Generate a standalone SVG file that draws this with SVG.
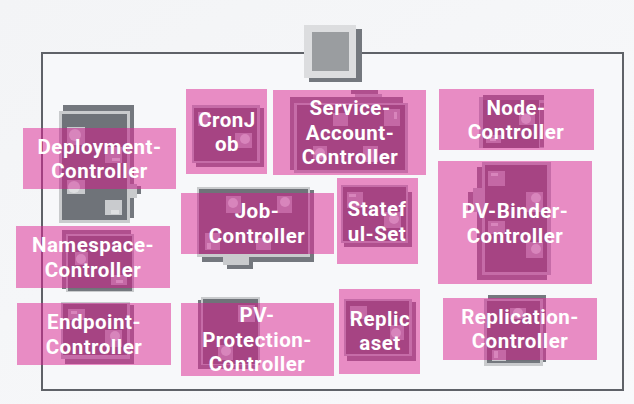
<svg xmlns="http://www.w3.org/2000/svg" width="634" height="404" viewBox="0 0 634 404">
<style>
text{font-family:Roboto,"Open Sans",sans-serif;font-weight:700;font-size:20.500px;letter-spacing:.5px;fill:#fff;text-anchor:middle}
.p{fill:#e88cc4}
.grey{--s:#74787e;--b:#c9cbcd;--f:#6f7379;--c:#c9cbce;--d:#dfe0e2}
.mag{--s:#b04f8e;--b:#c66ca8;--f:#a64483;--c:#c468a5;--d:#d885bc}
.s{fill:var(--s)}.b{fill:var(--b)}.f{fill:var(--f)}.c{fill:var(--c)}.d{fill:var(--d)}
.fr{fill:#a23f80}
</style>
<defs>
<linearGradient id="bg" x1="0" y1="0" x2="1" y2="1"><stop offset="0" stop-color="#f3f4f6"/><stop offset="1" stop-color="#f8f9fb"/></linearGradient>
<clipPath id="cDep"><rect x="23" y="128" width="153" height="61"/></clipPath>
<clipPath id="cCron"><rect x="186" y="89" width="81" height="85"/></clipPath>
<clipPath id="cSvc"><rect x="273" y="90" width="153" height="85"/></clipPath>
<clipPath id="cNode"><rect x="439" y="89" width="155" height="61"/></clipPath>
<clipPath id="cBind"><rect x="438" y="161" width="154" height="123"/></clipPath>
<clipPath id="cJob"><rect x="181" y="193" width="153" height="61"/></clipPath>
<clipPath id="cSta"><rect x="337" y="178" width="81" height="86"/></clipPath>
<clipPath id="cNs"><rect x="16" y="226" width="154" height="62"/></clipPath>
<clipPath id="cEnd"><rect x="17" y="303" width="154" height="62"/></clipPath>
<clipPath id="cProt"><rect x="181" y="303" width="153" height="73"/></clipPath>
<clipPath id="cRs"><rect x="339" y="289" width="81" height="85"/></clipPath>
<clipPath id="cRepl"><rect x="443" y="298" width="154" height="62"/></clipPath>
<g id="iDep">
<rect class="s" x="63" y="105" width="71" height="113"/><rect class="s" x="134" y="186" width="7" height="8"/>
<rect class="b" x="130" y="184" width="7" height="14"/>
<rect class="b" x="59" y="111" width="71" height="112"/><rect class="f" x="62" y="114" width="65" height="106"/>
<rect class="c" x="67" y="127" width="18" height="18"/><circle class="d" cx="75" cy="135" r="6"/>
<rect class="c" x="67" y="180" width="18" height="14"/><circle class="d" cx="74" cy="187" r="6"/>
<rect class="c" x="105" y="147" width="17" height="16"/><rect class="d" x="112" y="158" width="8" height="3"/>
<rect class="c" x="105" y="200" width="17" height="15"/><rect class="d" x="111" y="210" width="8" height="4"/>
</g>
<g id="iCron">
<rect class="s" x="196" y="108" width="68" height="59"/><rect class="b" x="192" y="105" width="68" height="58"/><rect class="f" x="194" y="108" width="63" height="53"/>
<rect class="c" x="198" y="112" width="12" height="14"/><rect class="c" x="235" y="133" width="17" height="15"/><circle class="d" cx="245" cy="139" r="5"/>
</g>
<g id="iSvc">
<rect class="s" x="351" y="90" width="27" height="4"/><rect class="s" x="382" y="98" width="21" height="5"/>
<rect class="b" x="355" y="94" width="27" height="9"/>
<rect class="s" x="290" y="97" width="113" height="73"/><rect class="b" x="294" y="103" width="114" height="70"/><rect class="f" x="297" y="105" width="108" height="65"/>
<rect class="c" x="333" y="113" width="15" height="13"/><rect class="c" x="384" y="109" width="16" height="17"/><rect class="d" x="394" y="112" width="3" height="7"/>
<rect class="c" x="313" y="146" width="14" height="14"/><circle class="d" cx="320" cy="153" r="5"/><rect class="c" x="363" y="146" width="15" height="16"/>
</g>
<g id="iNode">
<rect class="b" x="479" y="97" width="65" height="51"/><rect class="s" x="483" y="95" width="61" height="5"/><rect class="f" x="483" y="100" width="56" height="48"/><rect class="s" x="540" y="103" width="4" height="44"/>
<rect class="c" x="519" y="113" width="16" height="12"/><circle class="d" cx="526" cy="119" r="5"/><rect class="c" x="486" y="135" width="15" height="8"/><rect class="d" x="490" y="138" width="6" height="3"/>
</g>
<g id="iBind">
<rect class="s" x="477" y="167" width="5" height="21"/><rect class="s" x="468" y="192" width="5" height="20"/><rect class="b" x="473" y="188" width="9" height="24"/>
<rect class="s" x="477" y="212" width="70" height="68"/>
<rect class="b" x="482" y="162" width="69" height="113"/><rect class="f" x="485" y="165" width="62" height="107"/>
<rect class="c" x="488" y="171" width="17" height="15"/><rect class="d" x="491" y="173" width="7" height="3"/>
<rect class="c" x="526" y="192" width="17" height="20"/><circle class="d" cx="536" cy="198" r="5"/>
<rect class="c" x="488" y="221" width="17" height="13"/><rect class="d" x="491" y="223" width="7" height="3"/>
<rect class="c" x="526" y="242" width="17" height="16"/><circle class="d" cx="536" cy="249" r="5"/>
</g>
<g id="iJob">
<rect class="s" x="202" y="190" width="112" height="72"/><rect class="s" x="227" y="262" width="26" height="7"/>
<rect class="b" x="223" y="257" width="26" height="8"/>
<rect class="b" x="197" y="187" width="113" height="70"/><rect class="f" x="199" y="189" width="109" height="65"/>
<rect class="c" x="226" y="196" width="15" height="17"/><circle class="d" cx="233" cy="203" r="5"/>
<rect class="c" x="277" y="196" width="15" height="17"/><circle class="d" cx="285" cy="202" r="5"/>
<rect class="c" x="205" y="233" width="15" height="17"/><rect class="d" x="207" y="243" width="4" height="6"/>
<rect class="c" x="256" y="238" width="15" height="12"/>
</g>
<g id="iSta">
<rect class="s" x="344" y="192" width="68" height="55"/><rect class="b" x="341" y="185" width="67" height="58"/><rect class="f" x="343" y="187" width="63" height="54"/>
<rect class="c" x="347" y="192" width="16" height="16"/><rect class="d" x="349" y="194" width="7" height="3"/>
<rect class="c" x="384" y="212" width="17" height="16"/><circle class="d" cx="394" cy="219" r="5"/>
</g>
<g id="iNs">
<rect class="s" x="62" y="230" width="69" height="59"/><rect class="b" x="66" y="234" width="68" height="58"/><rect class="f" x="68" y="236" width="64" height="53"/>
<rect class="s" x="68" y="289" width="64" height="2"/>
<rect class="c" x="75" y="252" width="13" height="13"/><circle class="d" cx="81" cy="259" r="5"/>
<rect class="c" x="111" y="275" width="16" height="10"/><rect class="d" x="116" y="280" width="7" height="3"/>
</g>
<g id="iEnd">
<rect class="s" x="65" y="305" width="69" height="59"/><rect class="b" x="61" y="302" width="69" height="57"/><rect class="f" x="63" y="304" width="64" height="51"/>
<rect class="c" x="68" y="309" width="17" height="11"/><rect class="d" x="71" y="311" width="6" height="3"/>
<rect class="c" x="105" y="330" width="17" height="17"/><circle class="d" cx="115" cy="336" r="5"/>
</g>
<g id="iProt">
<rect class="s" x="198" y="300" width="60" height="69"/><rect class="b" x="201" y="297" width="59" height="68"/><rect class="f" x="203" y="299" width="55" height="65"/>
<rect class="c" x="238" y="305" width="17" height="17"/><rect class="c" x="218" y="345" width="15" height="15"/><circle class="d" cx="226" cy="351" r="5"/>
</g>
<g id="iRs">
<rect class="s" x="347" y="302" width="69" height="59"/><rect class="b" x="344" y="299" width="68" height="57"/><rect class="f" x="346" y="301" width="63" height="53"/>
<rect class="c" x="350" y="306" width="17" height="13"/><rect class="c" x="390" y="325" width="14" height="15"/><circle class="d" cx="396" cy="333" r="5"/>
</g>
<g id="iRepl">
<rect class="s" x="488" y="295" width="58" height="67"/><rect class="b" x="484" y="299" width="59" height="67"/><rect class="f" x="487" y="301" width="53" height="62"/>
<rect class="s" x="487" y="361" width="53" height="2"/>
<rect class="c" x="510" y="308" width="16" height="11"/><circle class="d" cx="518" cy="313" r="5"/>
<rect class="c" x="492" y="350" width="14" height="11"/><rect class="d" x="494" y="351" width="4" height="7"/>
</g>
</defs>
<rect width="634" height="404" fill="url(#bg)"/>
<rect x="42" y="53" width="581" height="337" fill="#f7f8fa"/>
<g id="connectors">
<rect x="42" y="53" width="581" height="337" fill="none" stroke="#5f6268" stroke-width="2"/>
</g>
<g id="master">
<rect x="309" y="29" width="53" height="53" fill="#74787e"/>
<rect x="304" y="25" width="52" height="53" fill="#dcdddf"/>
<rect x="312" y="32" width="37" height="39" fill="#9a9da0"/>
</g>
<g id="cronjob"><use href="#iCron" class="grey"/><rect class="p" x="186" y="89" width="81" height="85"/><use href="#iCron" class="mag" clip-path="url(#cCron)"/><text x="227" y="127">CronJ</text><text x="227" y="151">ob</text></g>
<g id="service-account-controller"><use href="#iSvc" class="grey"/><rect class="p" x="273" y="90" width="153" height="85"/><use href="#iSvc" class="mag" clip-path="url(#cSvc)"/><text x="350" y="115">Service-</text><text x="350" y="140">Account-</text><text x="350" y="164">Controller</text></g>
<g id="node-controller"><use href="#iNode" class="grey"/><rect class="p" x="439" y="89" width="155" height="61"/><use href="#iNode" class="mag" clip-path="url(#cNode)"/><text x="516" y="115">Node-</text><text x="516" y="139">Controller</text></g>
<g id="deployment-controller"><use href="#iDep" class="grey"/><rect class="p" x="23" y="128" width="153" height="61"/><use href="#iDep" class="mag" clip-path="url(#cDep)"/><rect class="fr" x="41" y="128" width="2" height="61"/><text x="99.500" y="154">Deployment-</text><text x="99.500" y="178">Controller</text></g>
<g id="pv-binder-controller"><use href="#iBind" class="grey"/><rect class="p" x="438" y="161" width="154" height="123"/><use href="#iBind" class="mag" clip-path="url(#cBind)"/><text x="515" y="218">PV-Binder-</text><text x="515" y="243">Controller</text></g>
<g id="job-controller"><use href="#iJob" class="grey"/><rect class="p" x="181" y="193" width="153" height="61"/><use href="#iJob" class="mag" clip-path="url(#cJob)"/><text x="257" y="218">Job-</text><text x="257" y="243">Controller</text></g>
<g id="stateful-set"><use href="#iSta" class="grey"/><rect class="p" x="337" y="178" width="81" height="86"/><use href="#iSta" class="mag" clip-path="url(#cSta)"/><text x="377" y="216">Statef</text><text x="377" y="241">ul-Set</text></g>
<g id="namespace-controller"><use href="#iNs" class="grey"/><rect class="p" x="16" y="226" width="154" height="62"/><use href="#iNs" class="mag" clip-path="url(#cNs)"/><rect class="fr" x="41" y="226" width="2" height="62"/><text x="93" y="252">Namespace-</text><text x="93" y="277">Controller</text></g>
<g id="endpoint-controller"><use href="#iEnd" class="grey"/><rect class="p" x="17" y="303" width="154" height="62"/><use href="#iEnd" class="mag" clip-path="url(#cEnd)"/><rect class="fr" x="41" y="303" width="2" height="62"/><text x="94" y="329">Endpoint-</text><text x="94" y="354">Controller</text></g>
<g id="pv-protection-controller"><use href="#iProt" class="grey"/><rect class="p" x="181" y="303" width="153" height="73"/><use href="#iProt" class="mag" clip-path="url(#cProt)"/><text x="257" y="322">PV-</text><text x="257" y="347">Protection-</text><text x="257" y="371">Controller</text></g>
<g id="replicaset"><use href="#iRs" class="grey"/><rect class="p" x="339" y="289" width="81" height="85"/><use href="#iRs" class="mag" clip-path="url(#cRs)"/><text x="380" y="326">Replic</text><text x="380" y="350">aset</text></g>
<g id="replication-controller"><use href="#iRepl" class="grey"/><rect class="p" x="443" y="298" width="154" height="62"/><use href="#iRepl" class="mag" clip-path="url(#cRepl)"/><text x="520" y="324">Replication-</text><text x="520" y="348">Controller</text></g>
</svg>
